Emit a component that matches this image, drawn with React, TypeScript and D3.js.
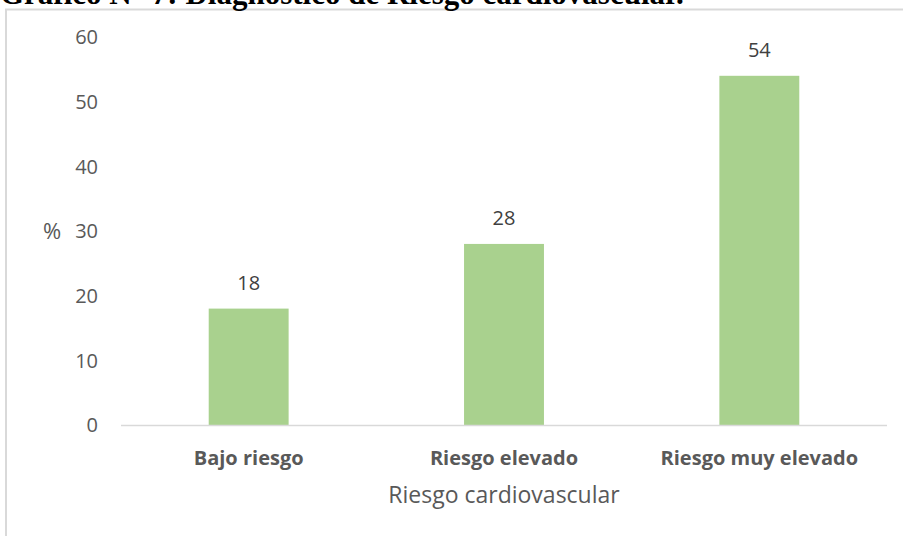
import React, { useEffect, useRef } from "react";
import * as d3 from "d3";

const categories = ["Bajo riesgo", "Riesgo elevado", "Riesgo muy elevado"];
const values = [18, 28, 54];
const yTicks = [0, 10, 20, 30, 40, 50, 60];

const W = 903;
const H = 536;
const FONT = "'Open Sans', 'Noto Sans', sans-serif";
const GREY = "#595959";

export default function App() {
  const svgRef = useRef<SVGSVGElement>(null);

  useEffect(() => {
    const svg = d3.select(svgRef.current);
    svg.selectAll("*").remove();

    const margin = { left: 121, right: 16, top: 37, bottom: 111 };
    const x = d3.scaleBand()
      .domain(categories)
      .range([margin.left, W - margin.right])
      .paddingInner(0.687)
      .paddingOuter(0.3435);
    const y = d3.scaleLinear().domain([0, 60]).range([H - margin.bottom, margin.top]);

    svg.append("rect")
      .attr("width", W).attr("height", H).attr("fill", "#fff");

    // chart area frame
    svg.append("path")
      .attr("d", `M6,${H} V9.5 H${W}`)
      .attr("fill", "none")
      .attr("stroke", "#d9d9d9")
      .attr("stroke-width", 2);

    // title, clipped at the top of the page like the source
    svg.append("text")
      .attr("x", 0)
      .attr("y", 4)
      .attr("font-family", "'Liberation Serif', 'Times New Roman', serif")
      .attr("font-weight", "bold")
      .attr("font-size", 31)
      .attr("fill", "#000")
      .text("Gráfico N° 7: Diagnóstico de Riesgo cardiovascular.");

    // y tick labels
    svg.append("g")
      .selectAll("text")
      .data(yTicks)
      .join("text")
      .attr("x", 98)
      .attr("y", d => y(d))
      .attr("dy", "0.36em")
      .attr("text-anchor", "end")
      .attr("font-family", FONT)
      .attr("font-size", 20)
      .attr("fill", GREY)
      .text(d => d);

    svg.append("text")
      .attr("x", 52)
      .attr("y", y(30))
      .attr("dy", "0.36em")
      .attr("text-anchor", "middle")
      .attr("font-family", FONT)
      .attr("font-size", 22)
      .attr("fill", GREY)
      .text("%");

    // bars
    svg.append("g")
      .selectAll("rect")
      .data(values)
      .join("rect")
      .attr("x", (d, i) => x(categories[i])!)
      .attr("y", d => y(d))
      .attr("width", x.bandwidth())
      .attr("height", d => y(0) - y(d))
      .attr("fill", "#a9d18e");

    // baseline
    svg.append("line")
      .attr("x1", margin.left)
      .attr("x2", W - margin.right)
      .attr("y1", y(0) + 0.5)
      .attr("y2", y(0) + 0.5)
      .attr("stroke", "#d9d9d9")
      .attr("stroke-width", 1.5);

    // value labels
    svg.append("g")
      .selectAll("text")
      .data(values)
      .join("text")
      .attr("x", (d, i) => x(categories[i])! + x.bandwidth() / 2)
      .attr("y", d => y(d) - 19)
      .attr("text-anchor", "middle")
      .attr("font-family", FONT)
      .attr("font-size", 20)
      .attr("fill", "#404040")
      .text(d => d);

    // category labels
    svg.append("g")
      .selectAll("text")
      .data(categories)
      .join("text")
      .attr("x", d => x(d)! + x.bandwidth() / 2)
      .attr("y", 465)
      .attr("text-anchor", "middle")
      .attr("font-family", FONT)
      .attr("font-weight", "bold")
      .attr("font-size", 20)
      .attr("fill", GREY)
      .text(d => d);

    // axis title
    svg.append("text")
      .attr("x", (margin.left + W - margin.right) / 2)
      .attr("y", 503)
      .attr("text-anchor", "middle")
      .attr("font-family", FONT)
      .attr("font-size", 23)
      .attr("fill", GREY)
      .text("Riesgo cardiovascular");
  }, []);

  return (
    <svg
      ref={svgRef}
      width={W}
      height={H}
      style={{ position: "fixed", left: 0, top: 0, display: "block" }}
    />
  );
}
